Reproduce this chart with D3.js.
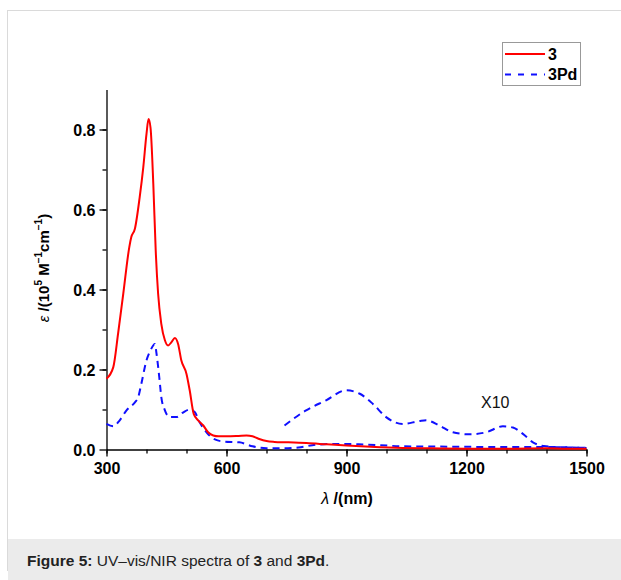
<!DOCTYPE html>
<html>
<head>
<meta charset="utf-8">
<script src="https://cdn.jsdelivr.net/npm/d3@7"></script>
<style>
  body { margin: 0; background: #fff; }
  svg { display: block; font-family: Arial, "Liberation Sans", sans-serif; }
</style>
</head>
<body>
<div id="main"></div>
<script>
var width = 621,
    height = 580;

// compound 3 (red, solid)
var red_nm  = [300, 317, 329, 342, 357, 362, 371, 383, 392, 400, 405, 410, 417, 423, 429, 437, 446, 454, 462, 471, 479, 487, 500, 508, 518, 529, 542, 554, 567, 580, 600, 630, 650, 665, 680, 700, 720, 750, 800, 850, 900, 960, 1040, 1100, 1200, 1300, 1400, 1450, 1500];
var red_val = [0.177, 0.206, 0.29, 0.39, 0.506, 0.531, 0.552, 0.631, 0.706, 0.789, 0.826, 0.805, 0.664, 0.498, 0.39, 0.314, 0.273, 0.26, 0.268, 0.279, 0.264, 0.223, 0.189, 0.148, 0.089, 0.073, 0.06, 0.043, 0.035, 0.033, 0.033, 0.034, 0.035, 0.033, 0.027, 0.021, 0.019, 0.018, 0.016, 0.013, 0.01, 0.007, 0.004, 0.003, 0.002, 0.002, 0.003, 0.002, 0.002];

// compound 3Pd (blue, dashed)
var blue_nm  = [300, 317, 333, 350, 371, 379, 387, 400, 410, 421, 425, 432, 437, 446, 458, 475, 492, 508, 521, 533, 550, 567, 592, 632, 665, 700, 740, 780, 825, 880, 930, 980, 1041, 1166, 1332, 1416, 1500];
var blue_val = [0.064, 0.058, 0.073, 0.098, 0.118, 0.13, 0.164, 0.223, 0.248, 0.264, 0.24, 0.18, 0.131, 0.098, 0.081, 0.081, 0.093, 0.1, 0.093, 0.068, 0.043, 0.027, 0.02, 0.018, 0.008, 0.003, 0.003, 0.005, 0.012, 0.014, 0.013, 0.011, 0.008, 0.007, 0.006, 0.006, 0.004];

// 3Pd NIR part, multiplied by 10
var x10_nm  = [745, 799, 849, 899, 932, 966, 999, 1041, 1082, 1099, 1132, 1166, 1207, 1249, 1291, 1316, 1341, 1366, 1399, 1457, 1500];
var x10_val = [0.06, 0.098, 0.123, 0.148, 0.14, 0.114, 0.081, 0.064, 0.071, 0.073, 0.06, 0.043, 0.038, 0.043, 0.058, 0.055, 0.039, 0.018, 0.008, 0.005, 0.004];

var x_ticks = [300, 600, 900, 1200, 1500];
var y_ticks = [0.0, 0.2, 0.4, 0.6, 0.8];

var svg = d3.select("div#main").append("svg")
    .attr("width", width)
    .attr("height", height);

// frame + caption strip
svg.append("rect")
    .attr("x", 7.5).attr("y", 10.5)
    .attr("width", width).attr("height", 560)
    .attr("fill", "#fff")
    .attr("stroke", "#dadada");

svg.append("rect")
    .attr("x", 8).attr("y", 539)
    .attr("width", width).attr("height", 41)
    .attr("fill", "#ebebeb");

var cap = svg.append("text")
    .attr("x", 27).attr("y", 566)
    .attr("font-size", 15.5)
    .attr("fill", "#222");
cap.append("tspan").attr("font-weight", "bold").text("Figure 5:");
cap.append("tspan").text(" UV–vis/NIR spectra of ");
cap.append("tspan").attr("font-weight", "bold").text("3");
cap.append("tspan").text(" and ");
cap.append("tspan").attr("font-weight", "bold").text("3Pd");
cap.append("tspan").text(".");

var x = d3.scaleLinear().domain([300, 1500]).range([106.5, 586.5]);
var y = d3.scaleLinear().domain([0, 0.9]).range([449.5, 89.5]);

// minor ticks
svg.append("g")
    .attr("transform", "translate(0,449.5)")
    .call(d3.axisBottom(x).tickValues(d3.range(300, 1501, 100)).tickSize(4).tickFormat(""))
    .call(function(g) { g.select(".domain").remove(); });

svg.append("g")
    .attr("transform", "translate(106.5,0)")
    .call(d3.axisLeft(y).tickValues(d3.range(1, 9).map(function(d) { return d / 10; })).tickSize(4).tickFormat(""))
    .call(function(g) { g.select(".domain").remove(); });

var xAxis = svg.append("g")
    .attr("transform", "translate(0,449.5)")
    .call(d3.axisBottom(x).tickValues(x_ticks).tickSize(7).tickSizeOuter(0).tickPadding(6).tickFormat(d3.format("d")));

var yAxis = svg.append("g")
    .attr("transform", "translate(106.5,0)")
    .call(d3.axisLeft(y).tickValues(y_ticks).tickSize(7).tickSizeOuter(0).tickPadding(4).tickFormat(d3.format(".1f")));

svg.selectAll(".tick line, .domain")
    .attr("stroke", "#000")
    .attr("stroke-width", 1.3);

svg.selectAll(".tick text")
    .attr("font-family", "Arial, 'Liberation Sans', sans-serif")
    .attr("font-size", 16)
    .attr("font-weight", "bold")
    .attr("fill", "#000");

yAxis.selectAll(".tick text").attr("dy", "0.36em");

// axis titles
var xt = svg.append("text")
    .attr("x", 347).attr("y", 504)
    .attr("text-anchor", "middle")
    .attr("font-size", 16);
xt.append("tspan").attr("font-style", "italic").text("λ");
xt.append("tspan").attr("font-weight", "bold").text(" /(nm)");

var yt = svg.append("text")
    .attr("transform", "translate(49,268) rotate(-90)")
    .attr("text-anchor", "middle")
    .attr("font-size", 15)
    .attr("font-weight", "bold");
yt.append("tspan").attr("font-style", "italic").attr("font-weight", "normal").text("ε");
yt.append("tspan").text(" /(10");
yt.append("tspan").attr("font-size", 10).attr("dy", -7).text("5");
yt.append("tspan").attr("dy", 7).text(" M");
yt.append("tspan").attr("font-size", 10).attr("dy", -7).text("−1");
yt.append("tspan").attr("dy", 7).text("cm");
yt.append("tspan").attr("font-size", 10).attr("dy", -7).text("−1");
yt.append("tspan").attr("dy", 7).text(")");

// curves
var line = d3.line()
    .x(function(d) { return x(d[0]); })
    .y(function(d) { return y(d[1]); })
    .curve(d3.curveMonotoneX);

var series = [
    { data: d3.zip(blue_nm, blue_val), color: "#1010ff", dash: "7,5" },
    { data: d3.zip(x10_nm, x10_val), color: "#1010ff", dash: "7,5" },
    { data: d3.zip(red_nm, red_val), color: "#ff0000", dash: null }
];

svg.selectAll(".curve")
    .data(series)
    .enter().append("path")
    .attr("class", "curve")
    .attr("d", function(d) { return line(d.data); })
    .attr("fill", "none")
    .attr("stroke", function(d) { return d.color; })
    .attr("stroke-width", 2)
    .attr("stroke-dasharray", function(d) { return d.dash; });

svg.append("text")
    .attr("x", 481).attr("y", 408)
    .attr("font-size", 16)
    .attr("fill", "#111")
    .text("X10");

// legend
var leg = svg.append("g");
leg.append("rect")
    .attr("x", 502.5).attr("y", 42.5)
    .attr("width", 78).attr("height", 43)
    .attr("fill", "#fff")
    .attr("stroke", "#999")
    .attr("stroke-width", 1);

var legItems = [
    { name: "3", color: "#ff0000", dash: null, y: 54 },
    { name: "3Pd", color: "#1010ff", dash: "6,7", y: 74.5 }
];

legItems.forEach(function(d) {
    leg.append("line")
        .attr("x1", 505).attr("x2", 545)
        .attr("y1", d.y).attr("y2", d.y)
        .attr("stroke", d.color)
        .attr("stroke-width", 2)
        .attr("stroke-dasharray", d.dash);
    leg.append("text")
        .attr("x", 548).attr("y", d.y + 5.5)
        .attr("font-size", 16)
        .attr("font-weight", "bold")
        .text(d.name);
});
</script>
</body>
</html>
